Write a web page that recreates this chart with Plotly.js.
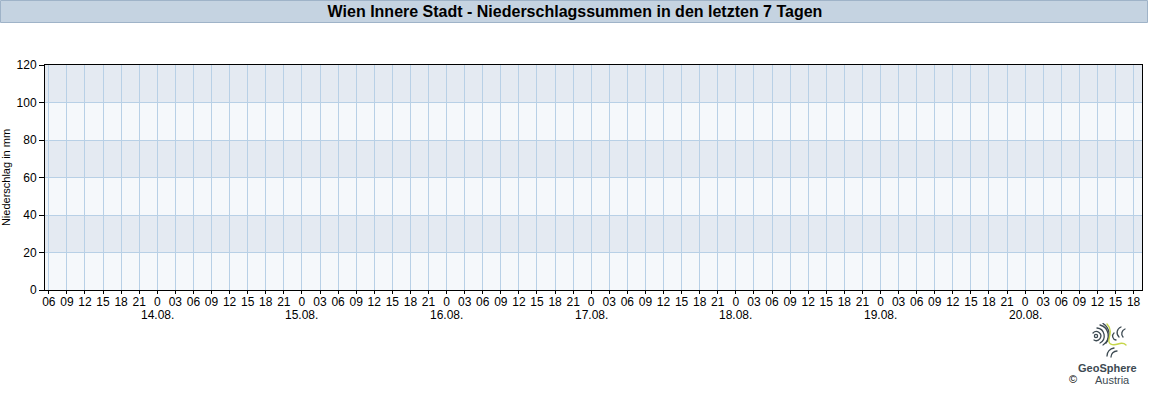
<!DOCTYPE html>
<html>
<head>
<meta charset="utf-8">
<script src="https://cdn.plot.ly/plotly-3.0.1.min.js"></script>
<style>
  html, body { margin: 0; padding: 0; background: #ffffff; }
  #chart { width: 1152px; height: 400px; }
</style>
</head>
<body>
<div id="chart"></div>
<script>
// ---- data ----
const chartTitle = "Wien Innere Stadt - Niederschlagssummen in den letzten 7 Tagen";
const yAxisTitle = "Niederschlag in mm";
// hours since 13.08. 00:00
const precipHours = [24, 48, 72, 96, 120, 144, 168];
const precipValues = [0, 0, 0, 0, 0, 0, 0];
const hourLabels = ["0", "03", "06", "09", "12", "15", "18", "21"];
const dayLabels = ["14.08.", "15.08.", "16.08.", "17.08.", "18.08.", "19.08.", "20.08."];
const dayHours = [24, 48, 72, 96, 120, 144, 168];
const firstTickHour = 6;
const lastTickHour = 186;
const yTicks = [0, 20, 40, 60, 80, 100, 120];

// ---- ticks ----
const tickvals = [];
const ticktext = [];
for (let h = firstTickHour; h <= lastTickHour; h += 3) {
  tickvals.push(h);
  ticktext.push(hourLabels[(h % 24) / 3]);
}

// ---- geometry helpers (pixel -> paper) ----
const W = 1152, H = 400;
const mL = 45, mR = 10, mT = 65, mB = 110;
const pw = W - mL - mR, ph = H - mT - mB;
const px = x => (x - mL) / pw;
const py = y => (H - mB - y) / ph;

const FONT = "Liberation Sans, Arial, sans-serif";

// alternating bands
const bandColor = "#e4eaf2";
const shapes = [];
for (let i = 1; i < yTicks.length; i += 2) {
  shapes.push({
    type: "rect", xref: "paper", yref: "y", layer: "below",
    x0: 0, x1: 1, y0: yTicks[i], y1: yTicks[i + 1],
    fillcolor: bandColor, line: { width: 0 }
  });
}
// title bar
shapes.push({
  type: "rect", xref: "paper", yref: "paper",
  x0: px(0.5), x1: px(1147.5), y0: py(22.5), y1: py(0.5),
  fillcolor: "#c5d3e1", line: { color: "#9fb3c8", width: 1 }
});

// logo (decorative swirl)
const logoSvg =
  '<svg xmlns="http://www.w3.org/2000/svg" width="40" height="36" viewBox="0 0 40 36">' +
  '<g fill="none" stroke="#3d4a52" stroke-width="1.3" stroke-linecap="round">' +
  '<circle cx="8" cy="13" r="1.6"/>' +
  '<path d="M5 10 A4.5 4.5 0 1 1 6 17"/>' +
  '<path d="M9 5 A8 8 0 0 1 12 20"/>' +
  '<path d="M12 2 A11 11 0 0 1 15 22"/>' +
  '<path d="M15 0.5 A13 13 0 0 1 18 20"/>' +
  '<path d="M33 4 A6 6 0 0 0 31 14"/>' +
  '<path d="M37 6 A5 5 0 0 0 35 14"/>' +
  '<path d="M26 10 A4 4 0 0 0 28 17"/>' +
  '<path d="M19 33 A8 8 0 0 1 26 25"/>' +
  '<path d="M23 34 A6 6 0 0 1 29 28"/>' +
  '</g>' +
  '<path d="M19 1 C24 6 22 12 21 16 C20 21 24 23 30 21 C33 20 36 20 38 22" fill="none" stroke="#c6d64a" stroke-width="1.4" stroke-linecap="round"/>' +
  '</svg>';
const logoSrc = "data:image/svg+xml;charset=utf-8," + encodeURIComponent(logoSvg);

const gridColor = "#b8d0e6";

const data = [{
  type: "bar",
  x: precipHours,
  y: precipValues,
  marker: { color: "#2a6fc0" },
  hoverinfo: "skip",
  showlegend: false
}];

const annotations = dayLabels.map((d, i) => ({
  text: d, xref: "x", yref: "paper", x: dayHours[i], y: py(315),
  xanchor: "center", yanchor: "middle", showarrow: false,
  font: { family: FONT, size: 12, color: "#000000" }
}));
annotations.push(
  { text: "<b>GeoSphere</b>", xref: "paper", yref: "paper", x: px(1107), y: py(368),
    xanchor: "center", yanchor: "middle", showarrow: false,
    font: { family: FONT, size: 11, color: "#3d4a52" } },
  { text: "Austria", xref: "paper", yref: "paper", x: px(1112), y: py(380),
    xanchor: "center", yanchor: "middle", showarrow: false,
    font: { family: FONT, size: 11, color: "#3d4a52" } },
  { text: "©", xref: "paper", yref: "paper", x: px(1073), y: py(379),
    xanchor: "center", yanchor: "middle", showarrow: false,
    font: { family: FONT, size: 11, color: "#000000" } }
);

const layout = {
  width: W, height: H,
  margin: { l: mL, r: mR, t: mT, b: mB, pad: 0 },
  paper_bgcolor: "#ffffff",
  plot_bgcolor: "#f5f8fb",
  font: { family: FONT, size: 12, color: "#000000" },
  showlegend: false,
  title: {
    text: "<b>" + chartTitle + "</b>",
    font: { family: FONT, size: 16, color: "#000000" },
    x: 575 / W, xref: "container", xanchor: "center",
    y: 1 - 11.5 / H, yref: "container", yanchor: "middle"
  },
  xaxis: {
    range: [5.37, 187.39],
    tickmode: "array",
    tickvals: tickvals,
    ticktext: ticktext,
    showgrid: true, gridcolor: gridColor, gridwidth: 1,
    zeroline: false,
    showline: true, linecolor: "#000000", linewidth: 1, mirror: true,
    ticks: "outside", ticklen: 3, tickcolor: "#000000", tickwidth: 1,
    ticklabelstandoff: -2,
    tickangle: 0,
    tickfont: { family: FONT, size: 12, color: "#000000" },
    fixedrange: true
  },
  yaxis: {
    range: [0, 120],
    tickmode: "array",
    tickvals: yTicks,
    ticktext: yTicks.map(String),
    showgrid: true, gridcolor: gridColor, gridwidth: 1,
    zeroline: false,
    showline: true, linecolor: "#000000", linewidth: 1, mirror: true,
    ticks: "outside", ticklen: 5, tickcolor: "#000000", tickwidth: 1,
    tickfont: { family: FONT, size: 12, color: "#000000" },
    title: { text: yAxisTitle, font: { family: FONT, size: 11, color: "#000000" }, standoff: 6 },
    fixedrange: true
  },
  shapes: shapes,
  images: [{
    source: logoSrc, xref: "paper", yref: "paper",
    x: px(1088), y: py(323), sizex: 40 / pw, sizey: 36 / ph,
    xanchor: "left", yanchor: "top", sizing: "stretch", layer: "above"
  }],
  annotations: annotations
};

Plotly.newPlot("chart", data, layout, { displayModeBar: false, staticPlot: true });
</script>
</body>
</html>
